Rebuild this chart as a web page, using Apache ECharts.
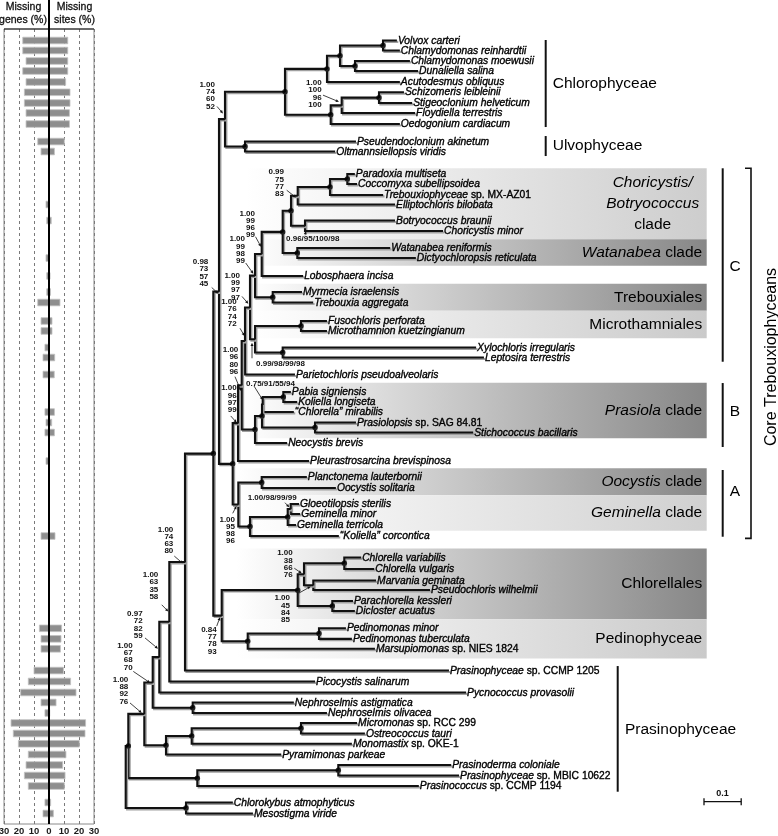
<!DOCTYPE html>
<html><head><meta charset="utf-8">
<script src="https://cdn.jsdelivr.net/npm/echarts@6/dist/echarts.min.js"></script>
<style>html,body{margin:0;padding:0;background:#fff}#c{width:778px;height:836px}</style>
</head><body><div id="c"></div>
<script>
// ---------------- DATA ----------------
const leafNames = [
 'Volvox carteri','Chlamydomonas reinhardtii','Chlamydomonas moewusii','Dunaliella salina','Acutodesmus obliquus',
 'Schizomeris leibleinii','Stigeoclonium helveticum','Floydiella terrestris','Oedogonium cardiacum',
 'Pseudendoclonium akinetum','Oltmannsiellopsis viridis',
 'Paradoxia multiseta','Coccomyxa subellipsoidea','Trebouxiophyceae sp. MX-AZ01','Elliptochloris bilobata',
 'Botryococcus braunii','Choricystis minor','Watanabea reniformis','Dictyochloropsis reticulata','Lobosphaera incisa',
 'Myrmecia israelensis','Trebouxia aggregata','Fusochloris perforata','Microthamnion kuetzingianum',
 'Xylochloris irregularis','Leptosira terrestris','Parietochloris pseudoalveolaris',
 'Pabia signiensis','Koliella longiseta','\u201CChlorella\u201D mirabilis','Prasiolopsis sp. SAG 84.81','Stichococcus bacillaris',
 'Neocystis brevis','Pleurastrosarcina brevispinosa','Planctonema lauterbornii','Oocystis solitaria',
 'Gloeotilopsis sterilis','Geminella minor','Geminella terricola','\u201CKoliella\u201D corcontica',
 'Chlorella variabilis','Chlorella vulgaris','Marvania geminata','Pseudochloris wilhelmii','Parachlorella kessleri','Dicloster acuatus',
 'Pedinomonas minor','Pedinomonas tuberculata','Marsupiomonas sp. NIES 1824',
 'Prasinophyceae sp. CCMP 1205','Picocystis salinarum','Pycnococcus provasolii','Nephroselmis astigmatica','Nephroselmis olivacea',
 'Micromonas sp. RCC 299','Ostreococcus tauri','Monomastix sp. OKE-1','Pyramimonas parkeae',
 'Prasinoderma coloniale','Prasinophyceae sp. MBIC 10622','Prasinococcus sp. CCMP 1194',
 'Chlorokybus atmophyticus','Mesostigma viride'];

// vertical order position of each leaf (row units, gaps included)
const leafRow = [0,0.97,1.99,2.96,4.03,5.03,6.07,7.04,8.11,9.81,10.78,
 12.96,13.93,15.0,15.92,17.48,18.5,20.15,21.12,22.86,
 24.42,25.44,27.23,28.2,29.81,30.78,32.43,
 34.13,35.1,36.07,37.09,38.06,39.08,40.83,42.38,43.45,
 45.0,45.97,47.04,48.11,
 50.19,51.31,52.43,53.35,54.42,55.39,
 57.07,58.09,59.06,
 61.17,62.23,63.3,64.27,65.29,66.26,67.28,68.28,69.32,
 70.34,71.36,72.38,73.98,75.05];

// distance from root to each tip (substitutions/site)
const tipDepth = [0.729,0.737,0.764,0.786,0.737,0.748,0.770,0.778,0.737,0.619,0.563,
 0.616,0.622,0.692,0.724,0.724,0.853,0.711,0.780,0.477,
 0.474,0.504,0.541,0.541,0.942,0.963,0.455,
 0.444,0.461,0.452,0.619,0.934,0.434,0.493,0.487,0.565,
 0.466,0.469,0.458,0.573,
 0.633,0.668,0.673,0.818,0.611,0.616,
 0.592,0.608,0.670,
 0.869,0.509,0.915,0.452,0.541,0.622,0.643,0.608,0.418,
 0.875,0.896,0.788,0.288,0.342];

const missingGenes = [17.5,17.5,15.3,17.5,15.3,16.4,16.4,15.3,15.3,7.5,5.3,
 0,0,0,2,1.5,0,0,2,1.5,
 1.5,7.5,5.3,5.3,2.7,4,4,
 0,0,2.7,2,2.7,0,2,0,0,
 0,0,0,5.3,
 0,0,0,0,0,0,
 6.4,5.3,5.3,
 10,13.8,18.9,5.3,2.7,25.3,23.8,20.4,13.8,
 15.3,16.4,13.8,2.7,4];
const missingSites = [12.5,12.5,12.5,12.5,11.1,14,14,13.6,13.6,10.2,3.6,
 0,0,0,0.3,1.5,0,0,0.3,0.7,
 1,7.3,2,2,0.3,3.8,3.5,
 0,0,3.6,1.8,3.6,0,0.2,0,0,
 0,0,0,4,
 0,0,0,0,0,0,
 8.4,8,7.6,
 9.6,14.4,18,4.7,0.5,24.4,24,20.2,11.3,
 9.1,10.7,10.2,1.1,2.9];

const missingTicks = [-30,-20,-10,0,10,20,30];

// tree: [id, depth of node, children...]; numbers are leaf indices
const tree =
['root', 0,
  ['Chlorophyta', 0.007,
    ['P5', 0.050,
      ['P4', 0.0726,
        ['P3', 0.0903,
          ['P2', 0.1172,
            ['P1', 0.1594,
              ['Q', 0.2355,
                ['R', 0.2508,
                  ['CU', 0.2669,
                    ['Chlorophyceae', 0.4282,
                      ['AcutNode', 0.5411,
                        ['N56', 0.5761, ['VolChl', 0.6917, 0, 1], ['MoewDun', 0.6164, 2, 3]],
                        4],
                      ['OedNode', 0.5511,
                        ['SSF', 0.5806, ['SchStig', 0.6809, 5, 6], 7],
                        8]],
                    ['Ulvo', 0.3207, 9, 10]],
                  ['T', 0.2876,
                    ['BCP', 0.3019,
                      ['CB', 0.3118,
                        ['CP', 0.3207,
                          ['Call', 0.3341,
                            ['LoboTreb', 0.3476,
                              ['LoboClade', 0.3656,
                                ['ChorWat', 0.4220,
                                  ['ChorBot', 0.4444,
                                    ['EllipClade', 0.4624,
                                      ['ParCocMX', 0.5492, ['ParCoc', 0.5957, 11, 12], 13],
                                      14],
                                    ['BotChor', 0.4820, 15, 16]],
                                  ['Watanabea', 0.4613, 17, 18]],
                                19],
                              ['Trebouxiales', 0.3952, 20, 21]],
                            ['MicXylo', 0.3476, ['Microth', 0.4712, 22, 23], ['XyloLepto', 0.4220, 24, 25]]],
                          26],
                        ['Bnode', 0.3476,
                          ['Prasiola', 0.3664,
                            ['PKC', 0.3683, ['PabKol', 0.4237, 27, 28], 29],
                            ['PrasStich', 0.5089, 30, 31]],
                          32]],
                      33],
                    ['Anode', 0.3027,
                      ['Oocystis', 0.3656, 34, 35],
                      ['GemNode', 0.3341,
                        ['GloeoClade', 0.4355, ['GloeoMin', 0.4435, 36, 37], 38],
                        39]]]],
                ['ChlPed', 0.2581,
                  ['Chlorellales', 0.4624,
                    ['ChlMarv', 0.4793, ['ChlPair', 0.5876, 40, 41], ['MarvPseudo', 0.5043, 42, 43]],
                    ['ParaDic', 0.5554, 44, 45]],
                  ['Pedino', 0.3280, ['PedPair', 0.5196, 46, 47], 48]]],
              49],
            50],
          51],
        ['Nephro', 0.1801, 52, 53]],
      ['MamPyr', 0.1083,
        ['Mamiello', 0.1774, ['MicOst', 0.4712, 54, 55], 56],
        57]],
    ['Prasinococcales', 0.1925, ['PrasMBIC', 0.5715, 58, 59], 60]],
  ['Strepto', 0.1621, 61, 62]];

// support values; nodes not listed (except root) are fully supported (dot)
const support = {
 CU:'1.00/74/60/52', SSF:'1.00/100/96/100', EllipClade:'0.99/75/77/83', BotChor:'0.96/95/100/98',
 LoboClade:'1.00/99/96/99', LoboTreb:'1.00/99/98/99', R:'0.98/73/57/45', Call:'1.00/99/97/97',
 CP:'1.00/76/74/72', MicXylo:'0.99/98/99/98', CB:'1.00/96/80/96', BCP:'1.00/96/97/99',
 PKC:'0.75/91/55/94', GloeoMin:'1.00/98/99/99', Anode:'1.00/95/98/96', P1:'1.00/74/63/80',
 ChlMarv:'1.00/38/66/76', MarvPseudo:'1.00/45/84/85', ChlPed:'0.84/77/78/93', P2:'1.00/63/35/58',
 P3:'0.97/72/82/59', P4:'1.00/67/68/70', P5:'1.00/88/92/76'
};

// ---------------- LAYOUT (positions / styles) ----------------
const FAM = '"Liberation Sans", Arial, Helvetica, sans-serif';
const ROW0_PX = 40.5, ROW_PX = 10.3, GRID_TOP = 29, GRID_BOTTOM = 824;
const TREE_LEFT = 125.7, TREE_RIGHT = 706.7, PX_PER_UNIT = 372;
const yMin = (GRID_TOP - ROW0_PX) / ROW_PX, yMax = (GRID_BOTTOM - ROW0_PX) / ROW_PX;
const xTreeMax = (TREE_RIGHT - TREE_LEFT) / PX_PER_UNIT;

// support label layout: [mode, textDx, textDy, arrowStartDx, arrowStartDy, arrowEndDx, arrowEndDy] relative to node
const supportLayout = {
 CU:['s',-10,-34.7,-8,-12.7,-2,-5.7],
 SSF:['s',-20,-22.5,-18.7,-10.2,-2.7,-3.5],
 EllipClade:['s',-13.7,-23.5,-11,-5.5,-1.7,1.8],
 BotChor:['l',-19,12.6,0,9.5,1,5.3],
 LoboClade:['s',-6.7,-40.6,-6.2,-17.2,-0.7,-7.2],
 LoboTreb:['s',-10,-36.6,-9.3,-12.6,-1.7,-1.9],
 R:['s',-10.7,-29.7,-7.3,-4,-0.7,2],
 Call:['s',-10,-32,-8,-11,-1.7,-3.7],
 CP:['s',-8.3,-39,-5,-12.7,-0.5,-5],
 MicXylo:['l',1,24.5,-3,19,-3,3.5],
 CB:['s',-3.4,-35.3,-6.7,-8.6,-0.7,5.7],
 BCP:['s',-1.3,-34.9,-7.3,-7.2,-1.3,-0.5],
 PKC:['l',-16.7,-21.2,-8.7,-18.5,0,-4.5],
 GloeoMin:['l',-43,-10.7,-5.7,-6.3,-1.4,-1.7],
 Anode:['s',-3.3,14.8,-5.6,8.8,-1.8,1.5],
 P1:['s',-11.7,-32.7,-10.7,-6,-2.3,1.3],
 ChlMarv:['s',-11.3,-21,-9.7,-6,-2.3,-1],
 MarvPseudo:['s',-23.3,12.8,-14.3,7.8,-2.6,1.2],
 ChlPed:['s',-5,13.8,-5,10.5,-1.7,1.5],
 P2:['s',-11,-47,-7.6,-17,-1,-10.3],
 P3:['s',-16.6,-43.2,-14.3,-19.2,-1.3,-8.5],
 P4:['s',-20,-37,-19.4,-11,-2.7,0.3],
 P5:['s',-16,-34.2,-14.3,-10.9,-2.6,-0.9]
};

// clade boxes: [firstLeaf, lastLeaf, padTopRows, padBottomRows, leftDepth, darkColor, richLabel, align]
const cladeBoxes = [
 [11,16,0.55,0.8,0.323,'#cdcdcd','{i|Choricystis/}\n{i|Botryococcus}\n{n|clade}','center'],
 [17,18,0.85,0.75,0.334,'#878787','{i|Watanabea}{n| clade}','right'],
 [20,21,0.8,0.8,0.334,'#878787','{n|Trebouxiales}','right'],
 [22,23,0.99,0.7,0.334,'#cacaca','{n|Microthamniales}','right'],
 [27,31,0.9,0.55,0.315,'#878787','{i|Prasiola}{n| clade}','right'],
 [34,35,0.85,0.7,0.302,'#878787','{i|Oocystis}{n| clade}','right'],
 [36,38,0.85,0.55,0.302,'#d0d0d0','{i|Geminella}{n| clade}','right'],
 [40,45,0.88,0.8,0.297,'#878787','{n|Chlorellales}','right'],
 [46,48,0.88,0.95,0.297,'#cacaca','{n|Pedinophyceae}','right']
];

// group brackets: [label, firstLeaf, lastLeaf, padTopPx, padBottomPx, barX, labelX, labelDy, align]
const brackets = [
 ['Chlorophyceae',0,8,0.5,3,545.7,552.7,0,'left'],
 ['Ulvophyceae',9,10,5.5,4.5,545.7,552.7,0,'left'],
 ['Prasinophyceae',49,60,4.5,5.7,617.7,625,1,'left'],
 ['C',11,25,5.7,4.2,722.7,735,1.7,'center'],
 ['B',27,32,9,4,722.7,735,-3.3,'center'],
 ['A',34,39,7,0.7,722.7,735,-11.7,'center']
];

// ---------------- build tree geometry ----------------
const nodes = [];
const nodeById = {};
function build(n){
  if (typeof n === 'number') return {leaf:n, d:tipDepth[n], r:leafRow[n]};
  const id = n[0], d = n[1];
  const ch = n.slice(2).map(build);
  const node = {id, d, ch, r:(ch[0].r + ch[ch.length-1].r)/2};
  nodes.push(node); nodeById[id] = node;
  return node;
}
build(tree);
const dotData = nodes.filter(n => n.id !== 'root' && !support[n.id]).map(n => [n.d, n.r]);
const supportIds = Object.keys(support);

function richName(s){
  const k = s.indexOf(' sp. ');
  if (k >= 0) return '{i|' + s.slice(0,k) + '}{n|' + s.slice(k) + '}';
  return '{i|' + s + '}';
}
const LEAF_RICH = {
  i:{fontStyle:'italic', fontSize:10.3, fontFamily:FAM, fill:'#000', stroke:'#000', lineWidth:0.35},
  n:{fontStyle:'normal', fontSize:10.3, fontFamily:FAM, fill:'#000', stroke:'#000', lineWidth:0.35}
};
const BIG_RICH = {
  i:{fontStyle:'italic', fontSize:15.5, fontFamily:FAM, fill:'#000', lineHeight:21},
  n:{fontStyle:'normal', fontSize:15.5, fontFamily:FAM, fill:'#000', lineHeight:21}
};

const chart = echarts.init(document.getElementById('c'), null, {renderer:'canvas'});

const option = {
  animation:false,
  backgroundColor:'#fff',
  grid:[
    {left:4, top:GRID_TOP, width:90, height:GRID_BOTTOM-GRID_TOP, show:true, borderColor:'#8a8a8a', borderWidth:1, containLabel:false, outerBoundsMode:'none'},
    {left:TREE_LEFT, top:GRID_TOP, width:TREE_RIGHT-TREE_LEFT, height:GRID_BOTTOM-GRID_TOP, containLabel:false, outerBoundsMode:'none'}
  ],
  xAxis:[
    {gridIndex:0, type:'value', min:missingTicks[0], max:missingTicks[missingTicks.length-1], interval:10,
     axisLine:{show:false}, axisTick:{show:false},
     axisLabel:{fontSize:9.5, fontWeight:'bold', color:'#1a1a1a', margin:2, fontFamily:FAM, formatter:v=>String(Math.abs(v))},
     splitLine:{show:true, lineStyle:{type:[3,3], color:'#7a7a7a', width:1}}},
    {gridIndex:1, type:'value', min:0, max:xTreeMax, show:false, splitLine:{show:false}}
  ],
  yAxis:[
    {gridIndex:0, type:'value', inverse:true, min:yMin, max:yMax, show:false, splitLine:{show:false}},
    {gridIndex:1, type:'value', inverse:true, min:yMin, max:yMax, show:false, splitLine:{show:false}}
  ],
  series:[
    // missing data bars
    {type:'custom', xAxisIndex:0, yAxisIndex:0, z:3, silent:true, clip:false,
     data: leafNames.map((_, i) => [missingSites[i], leafRow[i], missingGenes[i]]).filter(d => d[0] > 0 || d[2] > 0),
     renderItem(params, api){
       const s = api.value(0), r = api.value(1), g = api.value(2);
       const a = api.coord([-g, r]), b = api.coord([s, r]);
       return {type:'rect', shape:{x:a[0], y:a[1]-3.3, width:b[0]-a[0], height:6.6},
               style:{fill:'#8e8e8e', stroke:'#c2c2c2', lineWidth:0.8}};
     }},
    // left panel decorations
    {type:'custom', xAxisIndex:0, yAxisIndex:0, z:4, silent:true, clip:false, data:[[0,0]],
     renderItem(params, api){
       const cs = params.coordSys;
       const x0 = api.coord([0, 0])[0];
       const ts = {align:'center', verticalAlign:'middle', font:'10.5px ' + FAM, fill:'#111', stroke:'#111', lineWidth:0.3};
       return {type:'group', children:[
         {type:'line', shape:{x1:cs.x, y1:cs.y, x2:cs.x+cs.width, y2:cs.y}, style:{stroke:'#111', lineWidth:1}},
         {type:'line', shape:{x1:x0, y1:0, x2:x0, y2:cs.y+cs.height}, style:{stroke:'#000', lineWidth:2}},
         {type:'text', style:Object.assign({text:'Missing', x:23.5, y:7.5}, ts)},
         {type:'text', style:Object.assign({text:'genes (%)', x:23, y:20.5}, ts)},
         {type:'text', style:Object.assign({text:'Missing', x:74.5, y:7.5}, ts)},
         {type:'text', style:Object.assign({text:'sites (%)', x:74.5, y:20.5}, ts)}
       ]};
     }},
    // clade boxes
    {type:'custom', xAxisIndex:1, yAxisIndex:1, z:1, silent:true, clip:false,
     data: cladeBoxes.map((b, i) => [b[4], leafRow[b[0]] - b[2], leafRow[b[1]] + b[3], i]),
     renderItem(params, api){
       const b = cladeBoxes[params.dataIndex];
       const cs = params.coordSys;
       const p0 = api.coord([api.value(0), api.value(1)]);
       const p1 = api.coord([api.value(0), api.value(2)]);
       const right = cs.x + cs.width;
       const grad = new echarts.graphic.LinearGradient(0,0,1,0,[{offset:0,color:'#ffffff'},{offset:1,color:b[5]}]);
       const ym = (p0[1] + p1[1]) / 2;
       const tx = b[7] === 'center' ? right - 54 : right - 4.5;
       return {type:'group', children:[
         {type:'rect', shape:{x:p0[0], y:p0[1], width:right-p0[0], height:p1[1]-p0[1]}, style:{fill:grad}},
         {type:'text', style:{text:b[6], rich:BIG_RICH, x:tx, y:ym, align:b[7], verticalAlign:'middle', fill:'#000'}}
       ]};
     }},
    // tree branches
    {type:'custom', xAxisIndex:1, yAxisIndex:1, z:3, silent:true, clip:false,
     data: nodes.map(n => [n.d, n.r]),
     renderItem(params, api){
       const n = nodes[params.dataIndex];
       const p = api.coord([n.d, n.r]);
       const c1 = n.ch[0], c2 = n.ch[n.ch.length-1];
       const a = api.coord([c1.d, c1.r]), b = api.coord([c2.d, c2.r]);
       return {type:'polyline', shape:{points:[a,[p[0],a[1]],[p[0],b[1]],b]},
               style:{fill:null, stroke:'#111', lineWidth:2.1, lineJoin:'miter',
                      shadowColor:'#a0a0a0', shadowOffsetX:1.4, shadowOffsetY:1.4, shadowBlur:0}};
     }},
    // node dots (fully supported)
    {type:'scatter', xAxisIndex:1, yAxisIndex:1, z:4, silent:true, symbol:'circle', symbolSize:5.5,
     itemStyle:{color:'#000'}, data:dotData},
    // leaf labels
    {type:'custom', xAxisIndex:1, yAxisIndex:1, z:5, silent:true, clip:false,
     data: leafNames.map((_, i) => [tipDepth[i], leafRow[i]]),
     renderItem(params, api){
       const p = api.coord([api.value(0), api.value(1)]);
       return {type:'text', style:{text:richName(leafNames[params.dataIndex]), rich:LEAF_RICH,
               x:p[0]+1, y:p[1]+0.3, align:'left', verticalAlign:'middle', fill:'#000'}};
     }},
    // support values + arrows
    {type:'custom', xAxisIndex:1, yAxisIndex:1, z:6, silent:true, clip:false,
     data: supportIds.map(id => [nodeById[id].d, nodeById[id].r]),
     renderItem(params, api){
       const id = supportIds[params.dataIndex];
       const L = supportLayout[id];
       const txt = support[id];
       const p = api.coord([api.value(0), api.value(1)]);
       const f = 'bold 8px ' + FAM;
       const kids = [];
       if (L[0] === 's') {
         txt.split('/').forEach((s, k) => kids.push({type:'text', style:{text:s, x:p[0]+L[1], y:p[1]+L[2]+k*7.3,
           align:'right', verticalAlign:'middle', font:f, fill:'#111'}}));
       } else {
         kids.push({type:'text', style:{text:txt, x:p[0]+L[1], y:p[1]+L[2], align:'left', verticalAlign:'middle', font:f, fill:'#111'}});
       }
       const x0 = p[0]+L[3], y0 = p[1]+L[4], x1 = p[0]+L[5], y1 = p[1]+L[6];
       const ang = Math.atan2(y1-y0, x1-x0), hl = 3.2, hw = 1.5;
       const bx = x1 - hl*Math.cos(ang), by = y1 - hl*Math.sin(ang);
       kids.push({type:'line', shape:{x1:x0, y1:y0, x2:bx, y2:by}, style:{stroke:'#111', lineWidth:0.8}});
       kids.push({type:'polygon', shape:{points:[[x1,y1],[bx - hw*Math.sin(ang), by + hw*Math.cos(ang)],[bx + hw*Math.sin(ang), by - hw*Math.cos(ang)]]},
                  style:{fill:'#111'}});
       return {type:'group', children:kids};
     }},
    // brackets, group labels, scale bar
    {type:'custom', xAxisIndex:1, yAxisIndex:1, z:6, silent:true, clip:false, data:[[0,0]],
     renderItem(params, api){
       const kids = [];
       const yOf = i => api.coord([0, leafRow[i]])[1];
       const bf = '15.5px ' + FAM;
       brackets.forEach(b => {
         const y0 = yOf(b[1]) - b[3], y1 = yOf(b[2]) + b[4];
         kids.push({type:'line', shape:{x1:b[5], y1:y0, x2:b[5], y2:y1}, style:{stroke:'#111', lineWidth:2}});
         kids.push({type:'text', style:{text:b[0], x:b[6], y:(y0+y1)/2 + b[7], align:b[8], verticalAlign:'middle', font:bf, fill:'#000'}});
       });
       // core trebouxiophyceans bracket
       const cy0 = yOf(11) - 5.7, cy1 = yOf(39) + 2.3;
       kids.push({type:'polyline', shape:{points:[[745,cy0],[751,cy0],[751,cy1],[745,cy1]]}, style:{fill:null, stroke:'#111', lineWidth:1.6}});
       kids.push({type:'text', x:771.5, y:(cy0+cy1)/2 + 3.7, rotation:Math.PI/2,
                  style:{text:'Core Trebouxiophyceans', x:0, y:0, align:'center', verticalAlign:'middle', font:'16px ' + FAM, fill:'#000'}});
       // scale bar 0.1
       const len = api.size([0.1, 0])[0];
       const sx = 704, sy = yOf(61) - 0.8;
       kids.push({type:'line', shape:{x1:sx, y1:sy, x2:sx+len, y2:sy}, style:{stroke:'#111', lineWidth:1.3}});
       kids.push({type:'line', shape:{x1:sx, y1:sy-3.5, x2:sx, y2:sy+3.5}, style:{stroke:'#111', lineWidth:1.3}});
       kids.push({type:'line', shape:{x1:sx+len, y1:sy-3.5, x2:sx+len, y2:sy+3.5}, style:{stroke:'#111', lineWidth:1.3}});
       kids.push({type:'text', style:{text:'0.1', x:sx+len/2, y:sy-8, align:'center', verticalAlign:'middle', font:'bold 9px ' + FAM, fill:'#111'}});
       return {type:'group', children:kids};
     }}
  ]
};
chart.setOption(option);
</script>
</body></html>
